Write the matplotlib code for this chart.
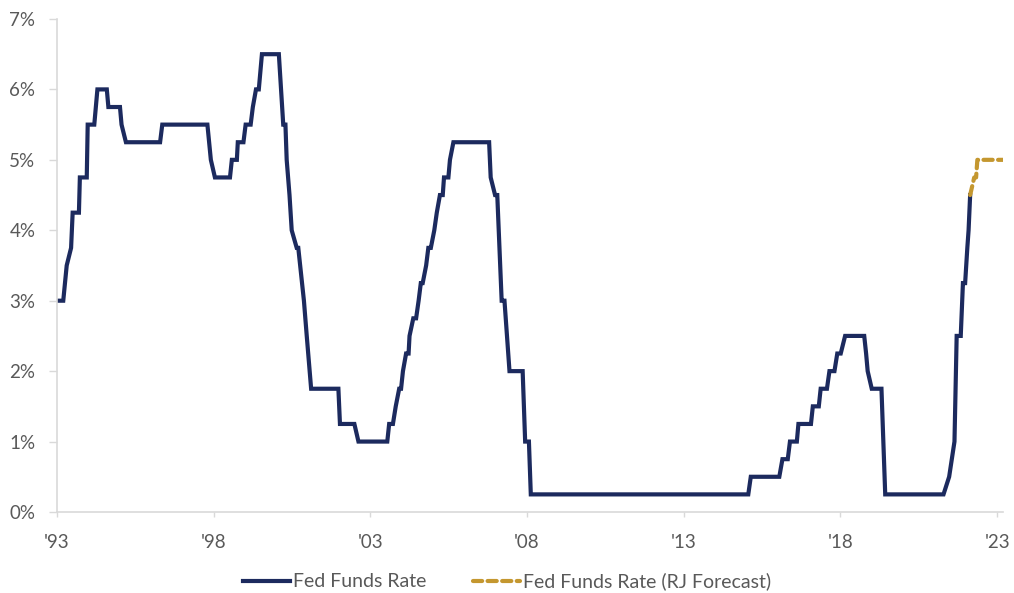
import matplotlib
matplotlib.use("Agg")
import matplotlib.pyplot as plt
from matplotlib.ticker import FuncFormatter

# Fed funds rate (upper bound, %), x in decimal years
years = [1993.00, 1993.20, 1993.31, 1993.45, 1993.50, 1993.70, 1993.73, 1993.95,
         1993.98, 1994.19, 1994.29, 1994.59, 1994.64, 1995.01, 1995.06, 1995.20,
         1996.29, 1996.36, 1997.80, 1997.91, 1998.04, 1998.52, 1998.58, 1998.74,
         1998.77, 1998.95, 1999.02, 1999.18, 1999.25, 1999.35, 1999.44, 1999.54,
         2000.08, 2000.22, 2000.29, 2000.33, 2000.42, 2000.49, 2000.65, 2000.70,
         2000.88, 2000.97, 2001.11, 2001.98, 2002.03, 2002.49, 2002.62, 2003.54,
         2003.60, 2003.72, 2003.81, 2003.92, 2003.98, 2004.04, 2004.14, 2004.22,
         2004.25, 2004.37, 2004.46, 2004.54, 2004.61, 2004.67, 2004.78, 2004.85,
         2004.93, 2005.04, 2005.12, 2005.22, 2005.31, 2005.35, 2005.49, 2005.54,
         2005.65, 2006.79, 2006.84, 2006.98, 2007.05, 2007.19, 2007.28, 2007.44,
         2007.86, 2007.94, 2008.06, 2008.12, 2015.06, 2015.14, 2016.05, 2016.15,
         2016.32, 2016.39, 2016.61, 2016.66, 2017.06, 2017.12, 2017.31, 2017.37,
         2017.57, 2017.65, 2017.81, 2017.90, 2018.01, 2018.15, 2018.76, 2018.82,
         2018.87, 2019.00, 2019.31, 2019.43, 2021.29, 2021.47, 2021.64, 2021.71,
         2021.84, 2021.91, 2021.98, 2022.05, 2022.09, 2022.14]
rates = [3.00, 3.00, 3.50, 3.75, 4.25, 4.25, 4.75, 4.75,
         5.50, 5.50, 6.00, 6.00, 5.75, 5.75, 5.50, 5.25,
         5.25, 5.50, 5.50, 5.00, 4.75, 4.75, 5.00, 5.00,
         5.25, 5.25, 5.50, 5.50, 5.75, 6.00, 6.00, 6.50,
         6.50, 5.50, 5.50, 5.00, 4.50, 4.00, 3.75, 3.75,
         3.00, 2.50, 1.75, 1.75, 1.25, 1.25, 1.00, 1.00,
         1.25, 1.25, 1.50, 1.75, 1.75, 2.00, 2.25, 2.25,
         2.50, 2.75, 2.75, 3.00, 3.25, 3.25, 3.50, 3.75,
         3.75, 4.00, 4.25, 4.50, 4.50, 4.75, 4.75, 5.00,
         5.25, 5.25, 4.75, 4.50, 4.50, 3.00, 3.00, 2.00,
         2.00, 1.00, 1.00, 0.25, 0.25, 0.50, 0.50, 0.75,
         0.75, 1.00, 1.00, 1.25, 1.25, 1.50, 1.50, 1.75,
         1.75, 2.00, 2.00, 2.25, 2.25, 2.50, 2.50, 2.25,
         2.00, 1.75, 1.75, 0.25, 0.25, 0.50, 1.00, 2.50,
         2.50, 3.25, 3.25, 3.75, 4.00, 4.50]

# RJ forecast
fc_years = [2022.14, 2022.27, 2022.33, 2022.37, 2023.19]
fc_rates = [4.50, 4.75, 4.75, 5.00, 5.00]

tick_years = [1993, 1998, 2003, 2008, 2013, 2018, 2023]
tick_labels = ["'93", "'98", "'03", "'08", "'13", "'18", "'23"]

navy = '#1C2A5E'
gold = '#C4972F'
grey_txt = '#595959'
axis_grey = '#D9D9D9'

plt.rcParams['font.family'] = ['Lato', 'DejaVu Sans']

fig = plt.figure(figsize=(10.14, 5.93), dpi=100)
ax = fig.add_axes([0.0562, 0.1366, 0.9330, 0.8314])

ax.plot(years, rates, color=navy, lw=3.0, solid_joinstyle='miter',
        label='Fed Funds Rate')
ax.plot(fc_years, fc_rates, color=gold, lw=3.0, linestyle=(0, (2.2, 1.3)),
        dash_capstyle='round', label='Fed Funds Rate (RJ Forecast)')

ax.set_xlim(1993, 2023.19)
ax.set_ylim(0, 7)
ax.set_yticks(range(0, 8))
ax.yaxis.set_major_formatter(FuncFormatter(lambda v, p: f'{int(v)}%'))
ax.set_xticks(tick_years)
ax.set_xticklabels(tick_labels)

for s in ['top', 'right']:
    ax.spines[s].set_visible(False)
for s in ['left', 'bottom']:
    ax.spines[s].set_color(axis_grey)
    ax.spines[s].set_linewidth(1.2)

ax.tick_params(axis='y', length=5.5, width=1.0, color=axis_grey, pad=10,
               labelsize=13.5, labelcolor=grey_txt)
ax.tick_params(axis='x', length=3.6, width=1.0, color=axis_grey, pad=12,
               labelsize=13.5, labelcolor=grey_txt)

leg = fig.legend(loc='lower center', bbox_to_anchor=(0.5, -0.025), ncol=2,
                 frameon=False, fontsize=14, handlelength=2.4,
                 handletextpad=0.15, columnspacing=2.4)
for t in leg.get_texts():
    t.set_color(grey_txt)

fig.savefig('out.png', dpi=100)
